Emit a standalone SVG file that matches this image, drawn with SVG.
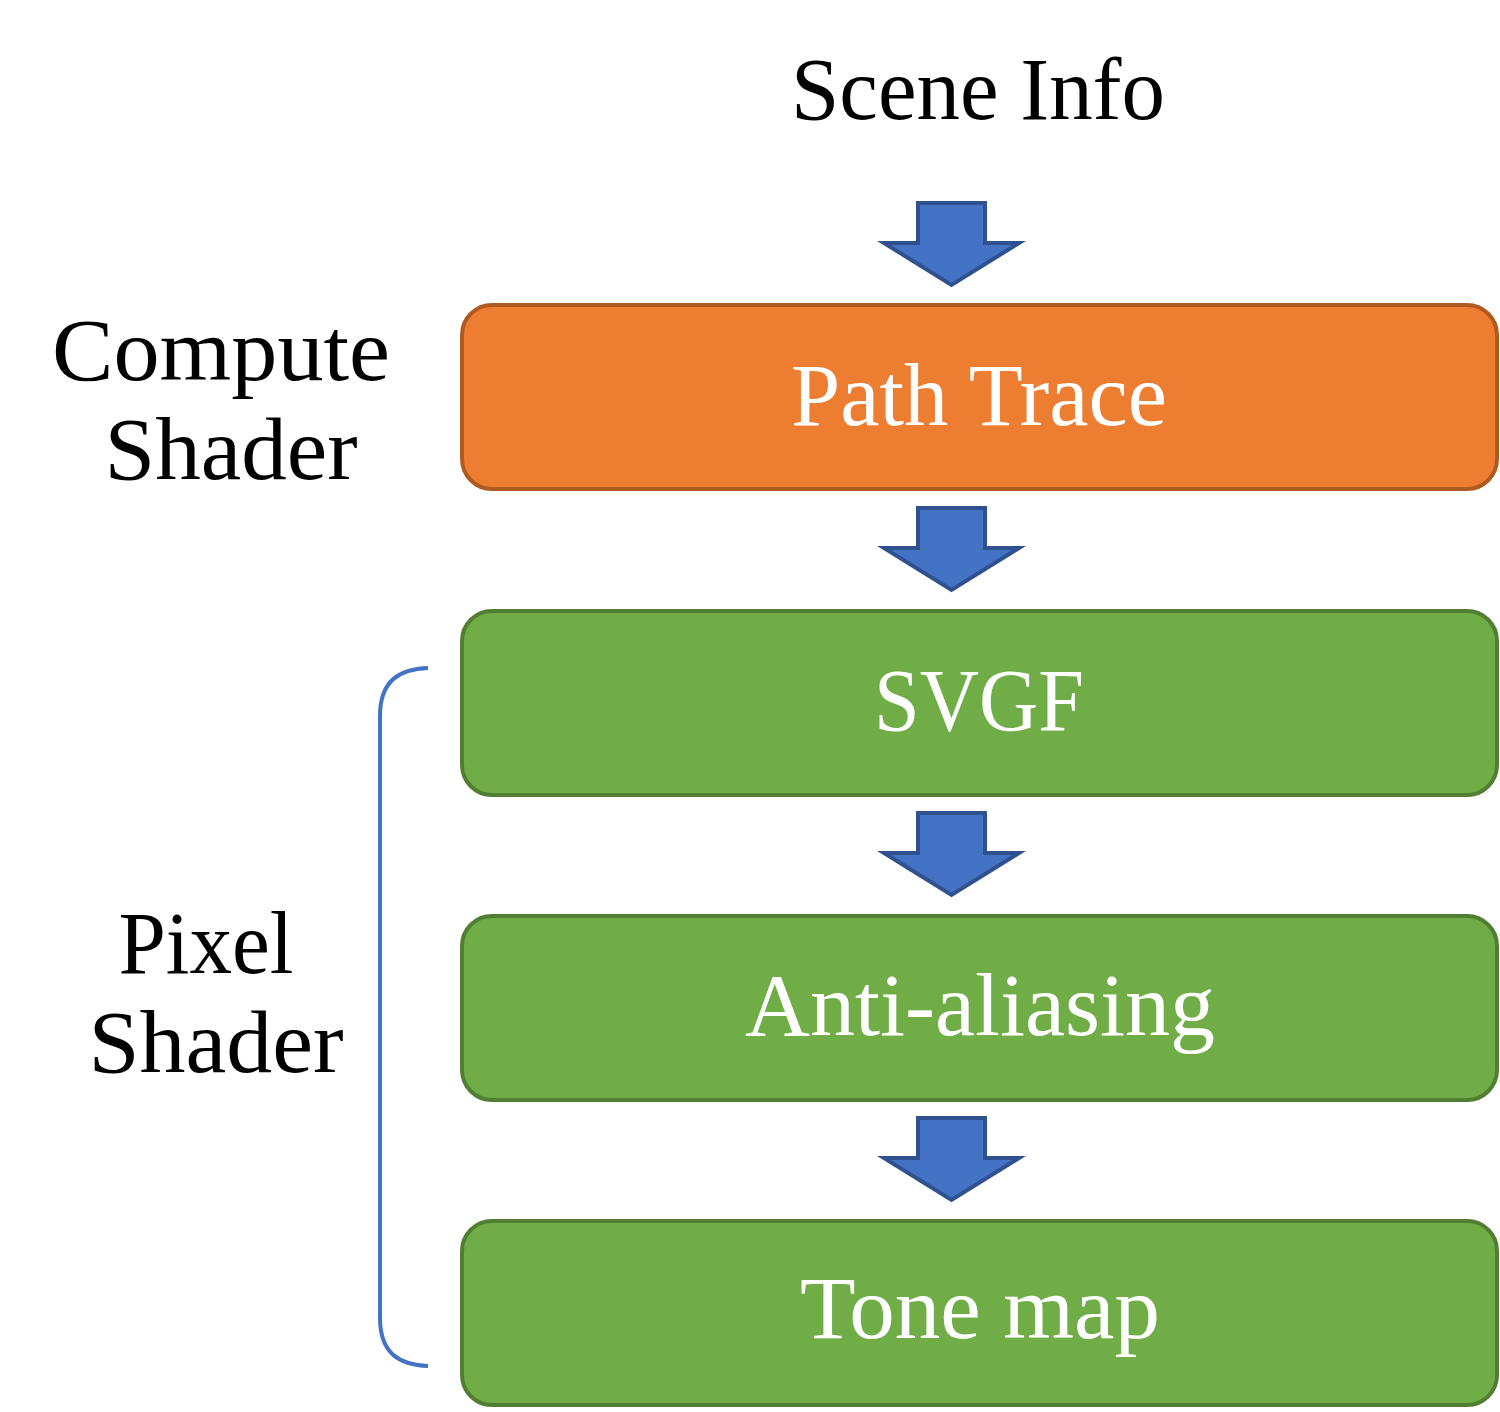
<svg xmlns="http://www.w3.org/2000/svg" width="1500" height="1412" viewBox="0 0 1500 1412">
<defs>
<style>
.t{font-family:"Liberation Serif","DejaVu Serif",serif;font-size:88px;text-anchor:middle}
.w{fill:#ffffff}
.k{fill:#000000}
.or{fill:#ED7D31;stroke:#AE5A21;stroke-width:4}
.gr{fill:#70AD47;stroke:#507E32;stroke-width:4}
.ar{fill:#4472C4;stroke:#2F528F;stroke-width:4;stroke-linejoin:miter}
</style>
<path id="arrow" d="M918,0 H985 V40 H1019 L951.5,82 L884,40 H918 Z"/>
</defs>
<rect width="1500" height="1412" fill="#ffffff"/>
<g id="labels">
<text class="t k" x="978" y="119" textLength="374" lengthAdjust="spacingAndGlyphs">Scene Info</text>
<text class="t k" x="221" y="380" textLength="338" lengthAdjust="spacingAndGlyphs">Compute</text>
<text class="t k" x="231" y="479" textLength="253" lengthAdjust="spacingAndGlyphs">Shader</text>
<text class="t k" x="206" y="973" textLength="175" lengthAdjust="spacingAndGlyphs">Pixel</text>
<text class="t k" x="216" y="1072" textLength="255" lengthAdjust="spacingAndGlyphs">Shader</text>
</g>
<g id="connectors">
<use href="#arrow" class="ar" y="203"/>
<use href="#arrow" class="ar" y="508"/>
<use href="#arrow" class="ar" y="813"/>
<use href="#arrow" class="ar" y="1118"/>
<path d="M428,668 C400,669 380,680 380,716 V1318 C380,1354 400,1365 428,1366" fill="none" stroke="#4472C4" stroke-width="4"/>
</g>
<g id="path-trace">
<rect class="or" x="462" y="305" width="1035" height="184" rx="30"/>
<text class="t w" x="979" y="425" textLength="376" lengthAdjust="spacingAndGlyphs">Path Trace</text>
</g>
<g id="svgf">
<rect class="gr" x="462" y="611" width="1035" height="184" rx="30"/>
<text class="t w" x="979" y="730" textLength="210" lengthAdjust="spacingAndGlyphs">SVGF</text>
</g>
<g id="anti-aliasing">
<rect class="gr" x="462" y="916" width="1035" height="184" rx="30"/>
<text class="t w" x="980" y="1035" textLength="470" lengthAdjust="spacingAndGlyphs">Anti-aliasing</text>
</g>
<g id="tone-map">
<rect class="gr" x="462" y="1221" width="1035" height="184" rx="30"/>
<text class="t w" x="980" y="1338" textLength="360" lengthAdjust="spacingAndGlyphs">Tone map</text>
</g>
</svg>
